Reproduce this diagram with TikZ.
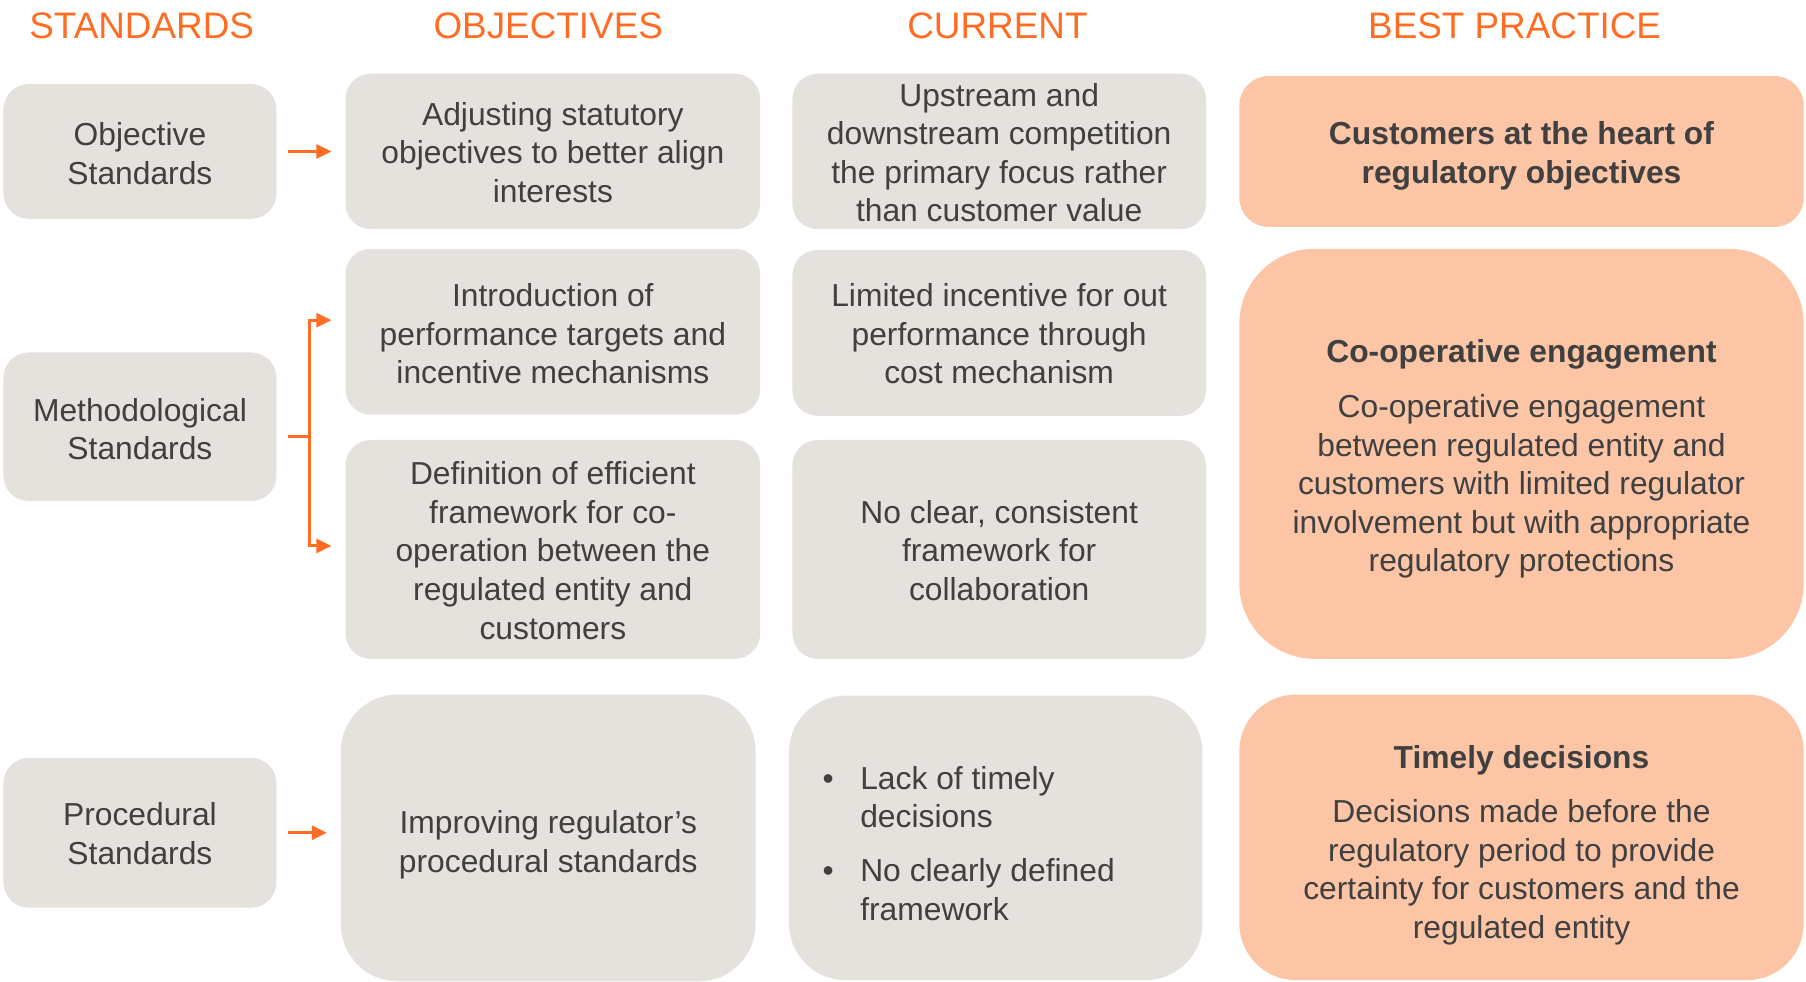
\documentclass[tikz,border=0pt]{standalone}
\usepackage{fontspec}
\setmainfont{Liberation Sans}
\usetikzlibrary{arrows.meta,calc}
\definecolor{org}{RGB}{255,108,35}
\definecolor{boxg}{RGB}{229,225,220}
\definecolor{peach}{RGB}{252,197,166}
\definecolor{txt}{RGB}{64,64,64}
\begin{document}
\begin{tikzpicture}[x=0.75pt,y=-0.75pt,
  every node/.style={font=\fontsize{20.7pt}{25.1pt}\selectfont, text=txt, align=center, inner sep=0pt},
  sz/.style 2 args={minimum width=#1*0.75pt, minimum height=#2*0.75pt},
  box/.style={fill=boxg, rounded corners=16.5pt},
  bigbox/.style={fill=boxg, rounded corners=37pt},
  bp/.style={fill=peach, rounded corners=#1},
  hdr/.style={font=\fontsize{24pt}{28pt}\selectfont, text=org},
  oline/.style={draw=org, line width=1.9pt},
  arr/.style={oline, -{Triangle[length=9.75pt,width=9pt]}}]
\useasboundingbox (0,0) rectangle (1568,852);
% headers
\node[hdr] (h1) at (123,22) {STANDARDS};
\node[hdr] (h2) at (476,22) {OBJECTIVES};
\node[hdr] (h3) at (866,22) {CURRENT};
\node[hdr] (h4) at (1315,22) {BEST PRACTICE};
% standards
\node[box, sz={237}{117}] (L1) at (121.5,131.5) {};
\node (L1t) at ($(L1)+(0,2)$) {Objective\\Standards};
\node[box, sz={237}{129}] (L2) at (121.5,370.5) {};
\node (L2t) at ($(L2)+(0,2)$) {Methodological\\Standards};
\node[box, sz={237}{130}] (L3) at (121.5,723) {};
\node (L3t) at ($(L3)+(0,1)$) {Procedural\\Standards};
% objectives
\node[box, sz={360}{135}] (O1) at (480,131.5) {};
\node (O1t) at ($(O1)+(0,1)$) {Adjusting statutory\\objectives to better align\\interests};
\node[box, sz={360}{144}] (O2) at (480,288) {};
\node (O2t) at ($(O2)+(0,2)$) {Introduction of\\performance targets and\\incentive mechanisms};
\node[box, sz={360}{190}] (O3) at (480,477) {};
\node (O3t) at ($(O3)+(0,1)$) {Definition of efficient\\framework for co-\\operation between the\\regulated entity and\\customers};
\node[bigbox, sz={360}{249}] (O4) at (476,727.5) {};
\node (O4t) at ($(O4)+(0,6)$) {Improving regulator’s\\procedural standards};
% current
\node[box, sz={359}{135}] (C1) at (867.5,131.5) {};
\node (C1t) at ($(C1)+(0,1)$) {Upstream and\\downstream competition\\the primary focus rather\\than customer value};
\node[box, sz={359}{144}] (C2) at (867.5,289) {};
\node (C2t) at ($(C2)+(0,1)$) {Limited incentive for out\\performance through\\cost mechanism};
\node[box, sz={359}{190}] (C3) at (867.5,477) {};
\node (C3t) at ($(C3)+(0,1)$) {No clear, consistent\\framework for\\collaboration};
\node[bigbox, sz={359}{247}] (C4) at (864.5,727.5) {};
\node[anchor=west] (C4t) at (714,735.5) {\begin{tabular}{@{}p{24.5pt}@{}l@{}}\textbullet & Lack of timely\\ & decisions\\[10pt] \textbullet & No clearly defined\\ & framework\end{tabular}};
% best practice
\node[bp=19pt, sz={490}{131}] (B1) at (1321,131.5) {};
\node (B1t) at ($(B1)+(0,4)$) {\textbf{Customers at the heart of}\\\textbf{regulatory objectives}};
\node[bp=49pt, sz={490}{356}] (B2) at (1321,394) {};
\node (B2t) at ($(B2)+(0,4.5)$) {\textbf{Co-operative engagement}\\[10.8pt]Co-operative engagement\\between regulated entity and\\customers with limited regulator\\involvement but with appropriate\\regulatory protections};
\node[bp=37pt, sz={490}{248}] (B3) at (1321,727) {};
\node (B3t) at ($(B3)+(0,7)$) {\textbf{Timely decisions}\\[10pt]Decisions made before the\\regulatory period to provide\\certainty for customers and the\\regulated entity};
% connectors
\draw[arr, shorten <=7.5pt, shorten >=9pt] (L1.east) -- (L1.east -| O1.west);
\draw[arr, shorten <=7.5pt, shorten >=9pt] (L3.east) -- (L3.east -| O4.west);
\coordinate (mj) at (269,379);
\draw[oline, shorten <=7.5pt] (L2.east |- mj) -- (mj);
\draw[arr, shorten >=9pt] (mj) |- ($(O2.west)+(0,-10)$);
\draw[arr, shorten >=9pt] (mj) |- ($(O3.west)+(0,-3)$);
\end{tikzpicture}
\end{document}
